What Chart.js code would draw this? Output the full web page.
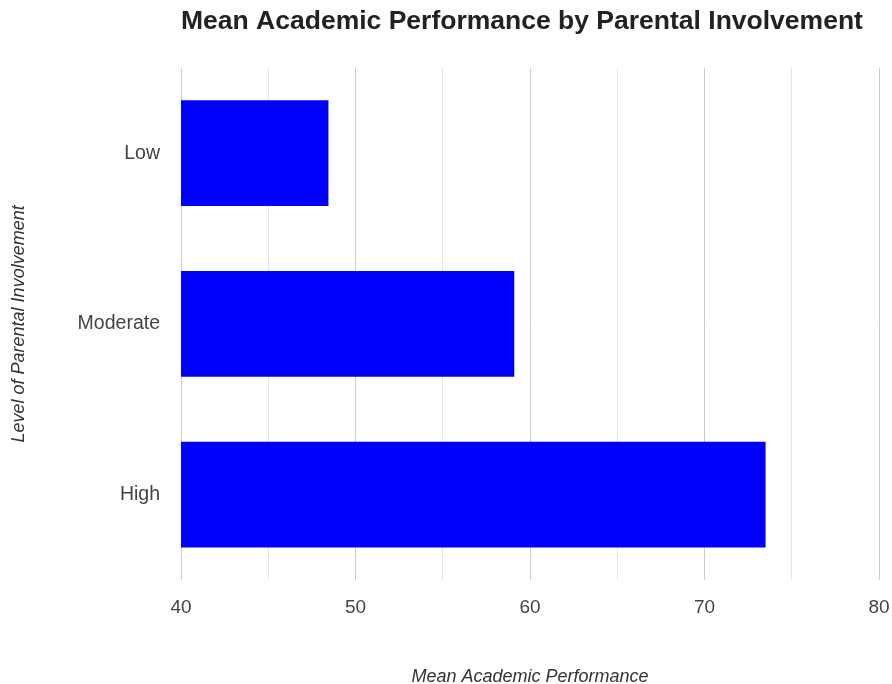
<!DOCTYPE html>
<html>
<head>
<meta charset="utf-8">
<script src="https://cdn.jsdelivr.net/npm/chart.js@4"></script>
<style>
  html, body { margin: 0; padding: 0; background: #fff; }
  #wrap { width: 892px; height: 684px; }
</style>
</head>
<body>
<div id="wrap"><canvas id="chart"></canvas></div>
<script>
// data
const categories = ['Low', 'Moderate', 'High'];
const meanScores = [48.45, 59.1, 73.5];
const xTicks = [40, 50, 60, 70, 80];

const FONT = "'Liberation Sans', Arial, sans-serif";

var ctx = document.getElementById('chart').getContext('2d');

var config = {
    type: 'bar',
    data: {
        labels: categories,
        datasets: [{
            label: 'Mean Academic Performance',
            data: meanScores,
            backgroundColor: '#0000ff',
            borderWidth: 0,
            categoryPercentage: 1,
            barPercentage: 0.62
        }]
    },
    options: {
        indexAxis: 'y',
        responsive: false,
        animation: false,
        layout: { padding: 0 },
        plugins: {
            legend: { display: false },
            tooltip: { enabled: false },
            title: {
                display: true,
                text: 'Mean Academic Performance by Parental Involvement',
                align: 'start',
                fullSize: false,
                color: '#222',
                font: { family: FONT, size: 26.5, weight: 'bold', lineHeight: 1.2 },
                padding: { top: 6, bottom: 30 }
            }
        },
        scales: {
            x: {
                min: xTicks[0],
                max: xTicks[xTicks.length - 1],
                afterFit: function(scale) {
                    scale.height = 104;
                    scale.paddingRight = 13;
                },
                border: { display: false },
                grid: {
                    drawTicks: false,
                    lineWidth: 1,
                    color: function(c) {
                        // every 10 is a darker line, the 5s in between are light
                        return (c.tick && c.tick.value % 10 === 0) ? '#cccccc' : '#e6e6e6';
                    }
                },
                ticks: {
                    stepSize: 5,
                    padding: 16,
                    color: '#444',
                    font: { family: FONT, size: 19 },
                    callback: function(value) {
                        return xTicks.includes(value) ? value : '';
                    }
                },
                title: {
                    display: true,
                    text: 'Mean Academic Performance',
                    color: '#333',
                    font: { family: FONT, size: 18, style: 'italic', lineHeight: 0.8 },
                    padding: { top: 0, bottom: 0 }
                }
            },
            y: {
                afterFit: function(scale) { scale.width = 181; },
                border: { display: false },
                grid: { display: false },
                ticks: {
                    padding: 13,
                    color: '#444',
                    font: { family: FONT, size: 19.5 }
                },
                title: {
                    display: true,
                    text: 'Level of Parental Involvement',
                    color: '#333',
                    font: { family: FONT, size: 18, style: 'italic', lineHeight: 1.2 },
                    padding: { top: 8, bottom: 0 }
                }
            }
        }
    }
};

var canvas = document.getElementById('chart');
canvas.width = 892;
canvas.height = 684;
var myChart = new Chart(ctx, config);
</script>
</body>
</html>
